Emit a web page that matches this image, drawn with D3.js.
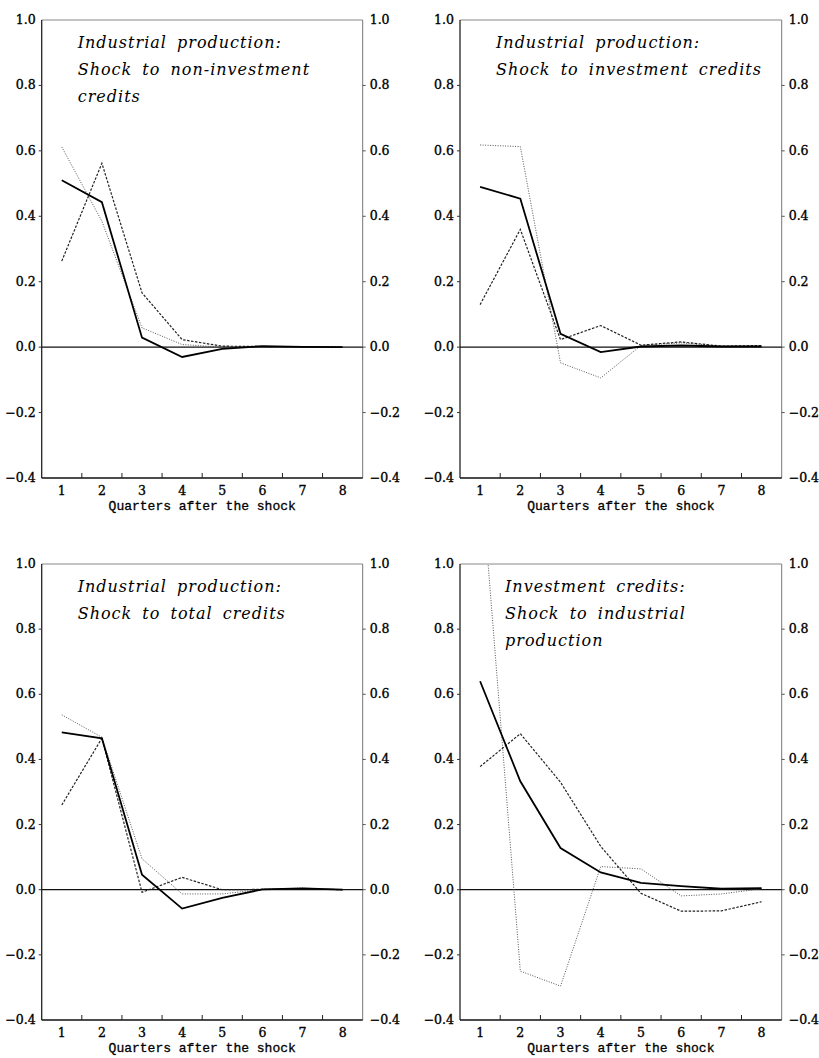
<!DOCTYPE html>
<meta charset="utf-8">
<script src="https://d3js.org/d3.v7.min.js"></script>
<style>
  body { margin: 0; background: #fff; }
  .tick-label { font-family: "DejaVu Serif", serif; font-size: 12.5px; fill: #000;
                stroke: #000; stroke-width: 0.35px; }
  .panel-title { font-family: "DejaVu Serif", serif; font-style: italic; font-size: 16px;
                 letter-spacing: 1px; word-spacing: 4px; fill: #000; }
  .axis-title { font-family: "Liberation Mono", monospace; font-size: 13px; fill: #000;
                stroke: #000; stroke-width: 0.3px; }
</style>
<div id="chart"></div>
<script>
// quarters after the shock and y ticks
var quarters = [1, 2, 3, 4, 5, 6, 7, 8];
var yTicks = [-0.4, -0.2, 0.0, 0.2, 0.4, 0.6, 0.8, 1.0];

// panel titles (one line per entry)
var titles1 = ["Industrial production:", "Shock to non-investment", "credits"];
var titles2 = ["Industrial production:", "Shock to investment credits"];
var titles3 = ["Industrial production:", "Shock to total credits"];
var titles4 = ["Investment credits:", "Shock to industrial", "production"];

// impulse responses
var p1Solid  = [0.510, 0.443, 0.029, -0.030, -0.005, 0.003, 0.001, 0.000];
var p1Dashed = [0.263, 0.562, 0.166, 0.023, 0.003, 0.002, 0.001, 0.000];
var p1Dotted = [0.612, 0.385, 0.059, 0.008, 0.000, 0.000, 0.000, 0.000];

var p2Solid  = [0.490, 0.454, 0.041, -0.015, 0.002, 0.005, 0.002, 0.002];
var p2Dashed = [0.130, 0.360, 0.023, 0.066, 0.006, 0.016, 0.003, 0.005];
var p2Dotted = [0.618, 0.613, -0.048, -0.094, 0.005, 0.013, 0.003, 0.003];

var p3Solid  = [0.483, 0.465, 0.046, -0.058, -0.025, 0.001, 0.004, 0.000];
var p3Dashed = [0.260, 0.465, -0.008, 0.038, 0.000, 0.001, 0.003, 0.000];
var p3Dotted = [0.537, 0.468, 0.095, -0.013, -0.013, 0.001, 0.005, 0.000];

var p4Solid  = [0.640, 0.333, 0.128, 0.053, 0.021, 0.011, 0.003, 0.005];
var p4Dashed = [0.378, 0.479, 0.330, 0.133, -0.011, -0.066, -0.065, -0.037];
var p4Dotted = [1.310, -0.250, -0.296, 0.071, 0.064, -0.019, -0.013, 0.003];

var panels = [
  {x0: 41.7, x1: 362.7, y0: 20,  y1: 478,  titleX: 36, titles: titles1, solid: p1Solid, dashed: p1Dashed, dotted: p1Dotted},
  {x0: 460,  x1: 781.7, y0: 20,  y1: 478,  titleX: 36, titles: titles2, solid: p2Solid, dashed: p2Dashed, dotted: p2Dotted},
  {x0: 41.7, x1: 362.7, y0: 564, y1: 1020, titleX: 36, titles: titles3, solid: p3Solid, dashed: p3Dashed, dotted: p3Dotted},
  {x0: 460,  x1: 781.7, y0: 564, y1: 1020, titleX: 45, titles: titles4, solid: p4Solid, dashed: p4Dashed, dotted: p4Dotted}
];

var svg = d3.select("#chart").append("svg")
    .attr("width", 819)
    .attr("height", 1058);

var fmt = function(v) { return (v < 0 ? "\u2212" : "") + Math.abs(v).toFixed(1); };

panels.forEach(function(p, i) {
  var x = d3.scaleBand().domain(quarters).range([p.x0, p.x1]);
  var y = d3.scaleLinear().domain([-0.4, 1.0]).range([p.y1, p.y0]);
  var g = svg.append("g");

  // clip so the lines stay inside the box
  g.append("clipPath").attr("id", "clip" + i)
    .append("rect")
      .attr("x", p.x0).attr("y", p.y0)
      .attr("width", p.x1 - p.x0).attr("height", p.y1 - p.y0);

  // frame: left and bottom dark, top and right lighter
  g.append("line").attr("x1", p.x0).attr("x2", p.x1).attr("y1", p.y0).attr("y2", p.y0)
    .attr("stroke", "#888").attr("stroke-width", 1);
  g.append("line").attr("x1", p.x1).attr("x2", p.x1).attr("y1", p.y0).attr("y2", p.y1)
    .attr("stroke", "#777").attr("stroke-width", 1);
  g.append("line").attr("x1", p.x0).attr("x2", p.x0).attr("y1", p.y0).attr("y2", p.y1)
    .attr("stroke", "#222").attr("stroke-width", 1.3);
  g.append("line").attr("x1", p.x0).attr("x2", p.x1).attr("y1", p.y1).attr("y2", p.y1)
    .attr("stroke", "#111").attr("stroke-width", 1.3);

  // bottom ticks between quarters, pointing in
  g.selectAll(".xtick").data(quarters.slice(1)).enter().append("line")
    .attr("x1", function(d) { return x(d); }).attr("x2", function(d) { return x(d); })
    .attr("y1", p.y1).attr("y2", p.y1 - 5)
    .attr("stroke", "#222").attr("stroke-width", 1);

  // quarter labels
  g.selectAll(".xlab").data(quarters).enter().append("text")
    .attr("class", "tick-label")
    .attr("x", function(d) { return x(d) + x.bandwidth() / 2; })
    .attr("y", p.y1 + 17)
    .attr("text-anchor", "middle")
    .text(function(d) { return d; });

  g.append("text").attr("class", "axis-title")
    .attr("x", (p.x0 + p.x1) / 2)
    .attr("y", p.y1 + 32)
    .attr("text-anchor", "middle")
    .text("Quarters after the shock");

  // y labels on both sides
  g.selectAll(".ylabL").data(yTicks).enter().append("text")
    .attr("class", "tick-label")
    .attr("x", p.x0 - 6)
    .attr("y", function(d) { return y(d) + 4; })
    .attr("text-anchor", "end")
    .text(fmt);
  g.selectAll(".ylabR").data(yTicks).enter().append("text")
    .attr("class", "tick-label")
    .attr("x", p.x1 + 7)
    .attr("y", function(d) { return y(d) + 4; })
    .attr("text-anchor", "start")
    .text(fmt);
  g.selectAll(".ytickR").data(yTicks.slice(1, -1)).enter().append("line")
    .attr("x1", p.x1).attr("x2", p.x1 + 3)
    .attr("y1", function(d) { return y(d); }).attr("y2", function(d) { return y(d); })
    .attr("stroke", "#555");
  g.selectAll(".ytickL").data(yTicks.slice(1, -1)).enter().append("line")
    .attr("x1", p.x0 - 3).attr("x2", p.x0)
    .attr("y1", function(d) { return y(d); }).attr("y2", function(d) { return y(d); })
    .attr("stroke", "#333");

  // zero line
  g.append("line").attr("x1", p.x0).attr("x2", p.x1).attr("y1", y(0)).attr("y2", y(0))
    .attr("stroke", "#111").attr("stroke-width", 1.2);

  var line = d3.line()
    .x(function(d, j) { return x(quarters[j]) + x.bandwidth() / 2; })
    .y(function(d) { return y(d); });

  var lines = g.append("g").attr("clip-path", "url(#clip" + i + ")").attr("fill", "none");
  lines.append("path").datum(p.dotted).attr("d", line)
    .attr("stroke", "#555").attr("stroke-width", 1).attr("stroke-dasharray", "1,1.5");
  lines.append("path").datum(p.dashed).attr("d", line)
    .attr("stroke", "#222").attr("stroke-width", 1.2).attr("stroke-dasharray", "2.5,1.5");
  lines.append("path").datum(p.solid).attr("d", line)
    .attr("stroke", "#000").attr("stroke-width", 1.8);

  // title in the top left corner
  g.selectAll(".title").data(p.titles).enter().append("text")
    .attr("class", "panel-title")
    .attr("x", p.x0 + p.titleX)
    .attr("y", function(d, j) { return p.y0 + 27.5 + j * 27; })
    .text(function(d) { return d; });
});
</script>
